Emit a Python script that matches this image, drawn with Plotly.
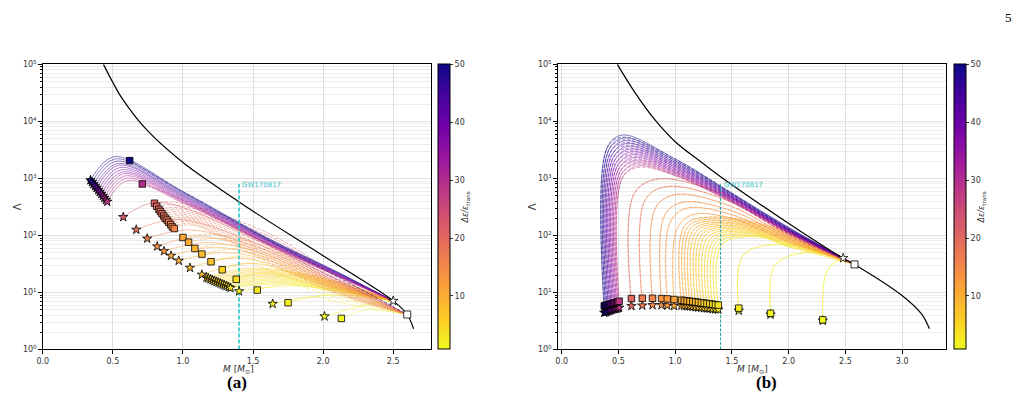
import plotly.graph_objects as go
from plotly.colors import sample_colorscale, sequential

CMIN, CMAX = 0.75, 50.0
PLASMA_R = sequential.Plasma[::-1]

# ======================= panel (a) data =======================
A_BLACK_M = [0.433, 0.50, 0.567, 0.73, 1.0, 1.37, 1.49, 2.0, 2.5, 2.6, 2.645]
A_BLACK_L = [1.0e5, 4.8e4, 2.5e4, 7.6e3, 1.9e3, 436, 275, 44, 7.1, 4.1, 2.3]
A_END_STAR_M, A_END_STAR_L = [2.50], [7.1]
A_END_SQ_M, A_END_SQ_L = [2.60], [4.1]
A_MID_M = [1.0, 1.6, 2.1]

# purple solid curves (end at stars)
A_PUR_DE = [50, 48, 46, 44, 42, 40, 38, 36, 34, 32, 30, 28]
A_PUR_M0 = [0.340, 0.351, 0.362, 0.373, 0.384, 0.395, 0.406, 0.417, 0.428, 0.439, 0.450, 0.460]
A_PUR_L0 = [930, 860, 790, 730, 680, 625, 580, 535, 495, 455, 420, 390]
A_PUR_PK_M = [0.506, 0.515, 0.523, 0.532, 0.540, 0.549, 0.557, 0.566, 0.574, 0.583, 0.591, 0.600]
A_PUR_PK_L = [2400, 2190, 2000, 1820, 1700, 1550, 1410, 1290, 1200, 1100, 1000, 910]
A_PUR_L10 = [590, 565, 540, 515, 495, 475, 455, 435, 415, 400, 385, 370]
A_PUR_L16 = [91, 88, 86, 84, 82, 80, 78, 76, 74, 73, 72, 70]
A_PUR_L21 = [23, 22.6, 22.2, 21.8, 21.4, 21, 20.7, 20.4, 20.1, 19.8, 19.5, 19.2]

# purple dashed curves (end at squares)
A_PURD_DE = [50, 30]
A_PURD_M0 = [0.62, 0.71]
A_PURD_L0 = [2050, 800]
A_PURD_L10 = [580, 420]
A_PURD_L16 = [86, 70]
A_PURD_L21 = [19, 16.5]

# orange dashed curves (squares)
A_ORD_DE = [21, 20.5, 20, 19.5, 19, 18.5, 18, 17.5, 17, 16.5, 16, 15.5]
A_ORD_M0 = [0.797, 0.813, 0.828, 0.839, 0.851, 0.863, 0.874, 0.887, 0.898, 0.913, 0.924, 0.938]
A_ORD_L0 = [367, 324, 288, 263, 240, 219, 200, 186, 170, 155, 141, 132]
A_ORD_PK_M = [0.95, 0.96, 0.97, 0.98, 0.99, 1.0, 1.01, 1.02, 1.03, 1.04, 1.05, 1.06]
A_ORD_PK_L = [380, 340, 305, 280, 258, 238, 220, 205, 190, 175, 162, 152]
A_ORD_L16 = [112, 100, 90, 82, 74, 67, 60, 54, 48, 43, 39, 35]
A_ORD_L21 = [20, 18.5, 17, 16, 15, 14, 13, 12, 11.2, 10.5, 10, 9.5]

# orange solid curves (stars)
A_ORS_DE = [22, 19, 16, 14, 12.5, 11, 10, 9, 8]
A_ORS_M0 = [0.574, 0.667, 0.745, 0.816, 0.865, 0.915, 0.97, 1.05, 1.135]
A_ORS_L0 = [210, 126, 88, 64, 53, 44, 36, 27, 20.5]
A_ORS_PK_M = [0.82, 0.97, 1.05, 1.12, 1.18, 1.22, 1.28, 1.35, 1.42]
A_ORS_PK_L = [380, 190, 125, 95, 75, 62, 50, 40, 32]
A_ORS_L16 = [68, 60, 54, 49, 45, 41, 37, 33, 30]
A_ORS_L21 = [17, 15.5, 14.5, 13.8, 13.2, 12.7, 12.2, 11.8, 11.4]

# yellow / amber dashed curves (squares)
A_YD_DE = [11, 10, 9, 8, 7, 5.5, 4, 3, 2, 1.2]
A_YD_M0 = [1.0, 1.04, 1.085, 1.135, 1.20, 1.28, 1.38, 1.53, 1.75, 2.13]
A_YD_L0 = [92, 76, 59, 47, 34.5, 25, 17, 11, 6.6, 3.5]
A_YD_PK_M = [1.2, 1.25, 1.3, 1.35, 1.42, 1.5, 1.6, 1.75, 1.95, 2.3]
A_YD_PK_L = [105, 88, 70, 57, 43, 32, 22, 14, 8.5, 4.9]
A_YD_L16 = [62, 54, 45, 38, 31, 25, None, None, None, None]
A_YD_L21 = [15, 14, 13, 12, 11, 10, 9, 8, 6.8, None]

# yellow solid cluster (stars)
A_YS_DE = [6.5, 6.2, 5.9, 5.6, 5.3, 5.0, 4.7, 4.4, 4.1, 3.8, 3.5, 3.2, 2.9]
A_YS_M0 = [1.168, 1.182, 1.197, 1.211, 1.225, 1.240, 1.254, 1.268, 1.283, 1.297, 1.311, 1.326, 1.340]
A_YS_L0 = [18.2, 17.6, 17.0, 16.4, 15.8, 15.3, 14.8, 14.3, 13.8, 13.3, 12.9, 12.4, 12.0]
A_YS_PK_M = [1.50, 1.52, 1.54, 1.56, 1.58, 1.60, 1.62, 1.64, 1.66, 1.68, 1.70, 1.72, 1.74]
A_YS_PK_L = [27, 25.5, 24, 22.8, 21.6, 20.5, 19.4, 18.4, 17.4, 16.5, 15.6, 14.8, 14]
A_YS_L21 = [15.5, 15, 14.5, 14, 13.5, 13, 12.6, 12.2, 11.8, 11.4, 11, 10.6, 10.2]

# yellow single stars
A_Y1_DE = [2.5, 1.8, 1.0]
A_Y1_M0 = [1.40, 1.64, 2.01]
A_Y1_L0 = [10.5, 6.3, 3.8]
A_Y1_PK_M = [1.85, 2.05, 2.3]
A_Y1_PK_L = [13, 9, 6]

# ======================= panel (b) data =======================
B_BLACK_M = [0.49, 0.65, 0.82, 1.0, 1.24, 1.40, 1.76, 2.1, 2.46, 2.58, 2.99, 3.17, 3.24]
B_BLACK_L = [1.0e5, 3.1e4, 1.07e4, 4.4e3, 1.86e3, 1.07e3, 339, 120, 42, 31, 9.1, 4.2, 2.3]
B_END_STAR_M, B_END_STAR_L = [2.48], [40]
B_END_SQ_M, B_END_SQ_L = [2.58], [31]
B_MID_M = [1.0, 1.5, 2.0]

B_PUR_DE = [50, 48, 46, 44, 42, 40, 38, 36, 34, 32, 30, 28]
B_PUR_M0 = [0.375, 0.387, 0.399, 0.411, 0.423, 0.435, 0.447, 0.459, 0.471, 0.483, 0.495, 0.506]
B_PUR_SQ_L = [5.8, 5.9, 6.0, 6.1, 6.2, 6.3, 6.4, 6.5, 6.6, 6.7, 6.85, 7.0]
B_PUR_ST_L = [4.4, 4.5, 4.6, 4.7, 4.8, 4.9, 5.0, 5.1, 5.15, 5.2, 5.3, 5.4]
B_PUR_SH_M = [0.400, 0.412, 0.424, 0.436, 0.448, 0.460, 0.472, 0.484, 0.496, 0.508, 0.520, 0.531]
B_PUR_SH_L = [3450, 3080, 2750, 2460, 2200, 1960, 1750, 1570, 1400, 1250, 1120, 1000]
B_PUR_PK_M = [0.535, 0.548, 0.561, 0.574, 0.587, 0.600, 0.612, 0.624, 0.636, 0.648, 0.660, 0.672]
B_PUR_PK_L = [5750, 5140, 4590, 4100, 3660, 3270, 2920, 2610, 2330, 2080, 1860, 1660]
B_PURD_PK_L = [5300, 4750, 4250, 3800, 3400, 3050, 2720, 2440, 2180, 1950, 1750, 1560]
B_PUR_L10 = [2190, 2050, 1920, 1800, 1690, 1590, 1490, 1400, 1320, 1250, 1180, 1120]
B_PUR_L15 = [550, 530, 510, 490, 475, 460, 445, 430, 415, 405, 392, 380]
B_PUR_L20 = [138, 135, 133, 130, 128, 125, 123, 121, 118, 116, 114, 112]
B_PURD_L20 = [128, 125, 123, 121, 119, 117, 115, 113, 111, 109, 107, 105]

B_OR_DE = [20, 17, 15, 13.5, 12.5, 11.5]
B_OR_M0 = [0.614, 0.71, 0.80, 0.88, 0.93, 0.99]
B_OR_SQ_L = [7.8, 7.9, 7.9, 7.8, 7.7, 7.5]
B_OR_ST_L = [5.8, 5.9, 6.0, 6.0, 5.9, 5.8]
B_OR_SH_M = [0.64, 0.735, 0.825, 0.905, 0.955, 1.015]
B_OR_SH_L = [550, 420, 300, 220, 170, 130]
B_OR_PK_M = [0.86, 0.93, 1.0, 1.06, 1.10, 1.15]
B_OR_PK_L = [980, 720, 520, 380, 300, 230]
B_OR_L15 = [450, 380, 320, 270, 230, 200]
B_OR_L20 = [108, 100, 94, 88, 82, 77]

B_Y_DE = [11, 10.3, 9.6, 9, 8.4, 7.8, 7.2, 6.6, 6, 5.4, 4.8, 4.2, 3.6, 3.0]
B_Y_M0 = [1.055, 1.08, 1.105, 1.13, 1.155, 1.18, 1.205, 1.23, 1.255, 1.28, 1.305, 1.33, 1.355, 1.38]
B_Y_SQ_L = [7.3, 7.2, 7.1, 7.0, 6.9, 6.8, 6.7, 6.6, 6.5, 6.4, 6.3, 6.2, 6.1, 6.0]
B_Y_ST_L = [5.9, 5.8, 5.75, 5.7, 5.6, 5.5, 5.45, 5.4, 5.3, 5.25, 5.2, 5.1, 5.05, 5.0]
B_Y_SH_M = [1.085, 1.11, 1.135, 1.16, 1.185, 1.21, 1.235, 1.26, 1.285, 1.31, 1.335, 1.36, 1.385, 1.41]
B_Y_SH_L = [150, 140, 132, 124, 117, 110, 104, 98, 92, 87, 82, 77, 73, 69]
B_Y_PK_M = [1.35, 1.38, 1.41, 1.44, 1.47, 1.50, 1.53, 1.56, 1.59, 1.62, 1.65, 1.68, 1.71, 1.74]
B_Y_PK_L = [210, 195, 182, 170, 160, 150, 141, 133, 125, 118, 111, 105, 99, 94]
B_Y_L20 = [115, 109, 104, 99, 94, 90, 86, 82, 78, 75, 72, 69, 66, 63]

B_Y1_DE = [2.5, 1.8, 1.0]
B_Y1_M0 = [1.56, 1.84, 2.30]
B_Y1_SQ_L = [5.3, 4.3, 3.3]
B_Y1_ST_L = [4.8, 4.1, 3.2]
B_Y1_SH_M = [1.60, 1.88, 2.33]
B_Y1_SH_L = [45, 30, 22]
B_Y1_PK_M = [1.95, 2.15, 2.43]
B_Y1_PK_L = [70, 50, 36]

# GW170817 marker
GW_M = [1.4]
GW_LMAX = [800]
CB_TICKS = [10, 20, 30, 40, 50]

# ======================= figure =======================
W, H = 1024, 406
FONT = "DejaVu Sans"
fig = go.Figure()


def rgba(de, a):
    t = (de - CMIN) / (CMAX - CMIN)
    t = min(max(t, 0.0), 1.0)
    c = sample_colorscale(PLASMA_R, [t])[0]
    return c.replace("rgb(", "rgba(").replace(")", f",{a})")


def add_curve(ax, de, xs, ys, dashed):
    fig.add_trace(go.Scatter(
        x=xs, y=ys, mode="lines", xaxis=ax[0], yaxis=ax[1],
        line=dict(color=rgba(de, 0.5), width=1, shape="spline", smoothing=1.0,
                  dash="3.5px,1.6px" if dashed else "solid"),
        hoverinfo="skip", showlegend=False))


def family(ax, de, m0, l0, knots, end, dashed):
    for i in range(len(de)):
        xs, ys = [m0[i]], [l0[i]]
        for km, kl in knots:
            mm = km[i] if isinstance(km, list) else km
            ll = kl[i]
            if ll is None or mm <= xs[-1]:
                continue
            xs.append(mm)
            ys.append(ll)
        xs.append(end[0][0])
        ys.append(end[1][0])
        add_curve(ax, de[i], xs, ys, dashed)


def markers(ax, de, ms, ls, symbol, size, cb=None):
    mk = dict(color=de, colorscale=PLASMA_R, cmin=CMIN, cmax=CMAX, symbol=symbol,
              size=size, line=dict(color="black", width=0.8))
    if cb is not None:
        mk["showscale"] = True
        mk["colorbar"] = cb
    fig.add_trace(go.Scatter(x=ms, y=ls, mode="markers", xaxis=ax[0], yaxis=ax[1],
                             marker=mk, hoverinfo="skip", showlegend=False))


AX_A = ("x", "y")
AX_B = ("x2", "y2")
SA = (A_END_STAR_M, A_END_STAR_L)
QA = (A_END_SQ_M, A_END_SQ_L)
SB = (B_END_STAR_M, B_END_STAR_L)
QB = (B_END_SQ_M, B_END_SQ_L)

# ---- panel (a) curves ----
family(AX_A, A_YS_DE, A_YS_M0, A_YS_L0, [(A_YS_PK_M, A_YS_PK_L), (A_MID_M[2], A_YS_L21)], SA, False)
family(AX_A, A_Y1_DE, A_Y1_M0, A_Y1_L0, [(A_Y1_PK_M, A_Y1_PK_L)], SA, False)
family(AX_A, A_YD_DE, A_YD_M0, A_YD_L0,
       [(A_YD_PK_M, A_YD_PK_L), (A_MID_M[1], A_YD_L16), (A_MID_M[2], A_YD_L21)], QA, True)
family(AX_A, A_ORS_DE, A_ORS_M0, A_ORS_L0,
       [(A_ORS_PK_M, A_ORS_PK_L), (A_MID_M[1], A_ORS_L16), (A_MID_M[2], A_ORS_L21)], SA, False)
family(AX_A, A_ORD_DE, A_ORD_M0, A_ORD_L0,
       [(A_ORD_PK_M, A_ORD_PK_L), (A_MID_M[1], A_ORD_L16), (A_MID_M[2], A_ORD_L21)], QA, True)
family(AX_A, A_PUR_DE, A_PUR_M0, A_PUR_L0,
       [(A_PUR_PK_M, A_PUR_PK_L), (A_MID_M[0], A_PUR_L10), (A_MID_M[1], A_PUR_L16),
        (A_MID_M[2], A_PUR_L21)], SA, False)
family(AX_A, A_PURD_DE, A_PURD_M0, A_PURD_L0,
       [(A_MID_M[0], A_PURD_L10), (A_MID_M[1], A_PURD_L16), (A_MID_M[2], A_PURD_L21)], QA, True)

# ---- panel (b) curves ----
family(AX_B, B_Y1_DE, B_Y1_M0, B_Y1_ST_L, [(B_Y1_SH_M, B_Y1_SH_L), (B_Y1_PK_M, B_Y1_PK_L)], SB, False)
family(AX_B, B_Y1_DE, B_Y1_M0, B_Y1_SQ_L, [(B_Y1_SH_M, B_Y1_SH_L), (B_Y1_PK_M, B_Y1_PK_L)], QB, True)
family(AX_B, B_Y_DE, B_Y_M0, B_Y_ST_L,
       [(B_Y_SH_M, B_Y_SH_L), (B_Y_PK_M, B_Y_PK_L), (B_MID_M[2], B_Y_L20)], SB, False)
family(AX_B, B_Y_DE, B_Y_M0, B_Y_SQ_L,
       [(B_Y_SH_M, B_Y_SH_L), (B_Y_PK_M, B_Y_PK_L), (B_MID_M[2], B_Y_L20)], QB, True)
family(AX_B, B_OR_DE, B_OR_M0, B_OR_ST_L,
       [(B_OR_SH_M, B_OR_SH_L), (B_OR_PK_M, B_OR_PK_L), (B_MID_M[1], B_OR_L15), (B_MID_M[2], B_OR_L20)],
       SB, False)
family(AX_B, B_OR_DE, B_OR_M0, B_OR_SQ_L,
       [(B_OR_SH_M, B_OR_SH_L), (B_OR_PK_M, B_OR_PK_L), (B_MID_M[1], B_OR_L15), (B_MID_M[2], B_OR_L20)],
       QB, True)
family(AX_B, B_PUR_DE, B_PUR_M0, B_PUR_ST_L,
       [(B_PUR_SH_M, B_PUR_SH_L), (B_PUR_PK_M, B_PUR_PK_L), (B_MID_M[0], B_PUR_L10),
        (B_MID_M[1], B_PUR_L15), (B_MID_M[2], B_PUR_L20)], SB, False)
family(AX_B, B_PUR_DE, B_PUR_M0, B_PUR_SQ_L,
       [(B_PUR_SH_M, B_PUR_SH_L), (B_PUR_PK_M, B_PURD_PK_L), (B_MID_M[0], B_PUR_L10),
        (B_MID_M[1], B_PUR_L15), (B_MID_M[2], B_PURD_L20)], QB, True)

# ---- black hadronic curves ----
for ax, bm, bl in ((AX_A, A_BLACK_M, A_BLACK_L), (AX_B, B_BLACK_M, B_BLACK_L)):
    fig.add_trace(go.Scatter(x=bm, y=bl, mode="lines", xaxis=ax[0], yaxis=ax[1],
                             line=dict(color="black", width=1.2, shape="spline", smoothing=1.0),
                             hoverinfo="skip", showlegend=False))

# ---- GW170817 lines ----
fig.add_trace(go.Scatter(x=GW_M * 2, y=[1, GW_LMAX[0]], mode="lines", xaxis="x", yaxis="y",
                         line=dict(color="rgba(40,200,200,0.9)", width=1.8, dash="4px,2px"),
                         hoverinfo="skip", showlegend=False))
fig.add_trace(go.Scatter(x=GW_M * 2, y=[1, GW_LMAX[0]], mode="lines", xaxis="x2", yaxis="y2",
                         line=dict(color="#1a9d9d", width=1, dash="3px,1.5px"),
                         hoverinfo="skip", showlegend=False))
for xr, yr in (("x", "y"), ("x2", "y2")):
    fig.add_annotation(x=GW_M[0], y=2.8, xref=xr, yref=yr, text="GW170817", showarrow=False,
                       xanchor="left", yanchor="bottom", xshift=1, yshift=-1,
                       font=dict(family=FONT, size=7, color="#3cc8c8"))


def cbar(xpix):
    return dict(x=xpix / W, xanchor="left", xpad=0, y=1 - 206.5 / H, yanchor="middle", ypad=0,
                len=293 / H, lenmode="fraction", thickness=12, outlinecolor="black", outlinewidth=1,
                tickvals=CB_TICKS, ticks="outside", ticklen=3, tickcolor="#333",
                tickfont=dict(family=FONT, size=8, color="#333"),
                title=dict(text="<i>Δε/ε</i><sub>trans</sub>", side="right",
                           font=dict(family=FONT, size=8, color="#333")))


END_STYLE = dict(color="white", line=dict(color="black", width=0.8))

# ---- markers panel (a) ----
markers(AX_A, A_PUR_DE, A_PUR_M0, A_PUR_L0, "star", 7)
markers(AX_A, A_ORS_DE, A_ORS_M0, A_ORS_L0, "star", 7)
markers(AX_A, A_YS_DE, A_YS_M0, A_YS_L0, "star", 7)
markers(AX_A, A_Y1_DE, A_Y1_M0, A_Y1_L0, "star", 7)
markers(AX_A, A_ORD_DE, A_ORD_M0, A_ORD_L0, "square", 6.5)
markers(AX_A, A_YD_DE, A_YD_M0, A_YD_L0, "square", 6.5)
markers(AX_A, A_PURD_DE, A_PURD_M0, A_PURD_L0, "square", 6.5, cb=cbar(435))
fig.add_trace(go.Scatter(x=A_END_STAR_M, y=A_END_STAR_L, mode="markers", xaxis="x", yaxis="y",
                         marker=dict(symbol="star", size=7, **END_STYLE),
                         hoverinfo="skip", showlegend=False))
fig.add_trace(go.Scatter(x=A_END_SQ_M, y=A_END_SQ_L, mode="markers", xaxis="x", yaxis="y",
                         marker=dict(symbol="square", size=7, **END_STYLE),
                         hoverinfo="skip", showlegend=False))

# ---- markers panel (b) ----
markers(AX_B, B_PUR_DE, B_PUR_M0, B_PUR_ST_L, "star", 7)
markers(AX_B, B_OR_DE, B_OR_M0, B_OR_ST_L, "star", 7)
markers(AX_B, B_Y_DE, B_Y_M0, B_Y_ST_L, "star", 7)
markers(AX_B, B_Y1_DE, B_Y1_M0, B_Y1_ST_L, "star", 7)
markers(AX_B, B_PUR_DE, B_PUR_M0, B_PUR_SQ_L, "square", 6.5)
markers(AX_B, B_OR_DE, B_OR_M0, B_OR_SQ_L, "square", 6.5)
markers(AX_B, B_Y_DE, B_Y_M0, B_Y_SQ_L, "square", 6.5)
markers(AX_B, B_Y1_DE, B_Y1_M0, B_Y1_SQ_L, "square", 6.5, cb=cbar(954))
fig.add_trace(go.Scatter(x=B_END_STAR_M, y=B_END_STAR_L, mode="markers", xaxis="x2", yaxis="y2",
                         marker=dict(symbol="star", size=7, **END_STYLE),
                         hoverinfo="skip", showlegend=False))
fig.add_trace(go.Scatter(x=B_END_SQ_M, y=B_END_SQ_L, mode="markers", xaxis="x2", yaxis="y2",
                         marker=dict(symbol="square", size=7, **END_STYLE),
                         hoverinfo="skip", showlegend=False))

# ---- axes ----
minor_vals = [m * 10 ** k for k in range(5) for m in range(2, 10)]
tickfont = dict(family=FONT, size=8, color="#333")


def xaxis(dom, rng, tv):
    return dict(domain=dom, range=rng, tickvals=tv, ticktext=[f"{v:.1f}" for v in tv],
                showline=True, linecolor="black", linewidth=1, mirror=True,
                ticks="outside", ticklen=3.5, tickcolor="black", tickfont=tickfont,
                showgrid=True, gridcolor="#dedede", gridwidth=1, zeroline=False)


def yaxis(anchor):
    return dict(domain=[1 - 353 / H, 1 - 60 / H], type="log", range=[0, 5], anchor=anchor,
                tickvals=[1, 10, 100, 1e3, 1e4, 1e5],
                ticktext=[f"10<sup>{k}</sup>" for k in range(6)],
                showline=True, linecolor="black", linewidth=1, mirror=True,
                ticks="outside", ticklen=3.5, tickcolor="black", tickfont=tickfont,
                showgrid=True, gridcolor="#dedede", gridwidth=1, zeroline=False,
                minor=dict(tickvals=minor_vals, ticks="outside", ticklen=2, tickcolor="black",
                           showgrid=True, gridcolor="#ececec", gridwidth=1))


fig.update_layout(
    width=W, height=H, margin=dict(l=0, r=0, t=0, b=0),
    paper_bgcolor="white", plot_bgcolor="white",
    xaxis=xaxis([37 / W, 428 / W], [0, 2.773], [0.0, 0.5, 1.0, 1.5, 2.0, 2.5]) | dict(anchor="y"),
    yaxis=yaxis("x"),
    xaxis2=xaxis([555 / W, 946 / W], [-0.035, 3.39], [0.0, 0.5, 1.0, 1.5, 2.0, 2.5, 3.0]) | dict(anchor="y2"),
    yaxis2=yaxis("x2"),
    showlegend=False,
)

labels = [
    (234 / W, 1 - 374 / H, "<i>M</i> [<i>M</i><sub>⊙</sub>]", 9, FONT, "#333", 0),
    (751 / W, 1 - 374 / H, "<i>M</i> [<i>M</i><sub>⊙</sub>]", 9, FONT, "#333", 0),
    (232 / W, 1 - 387 / H, "<b>(a)</b>", 17, "Liberation Serif", "black", 0),
    (765 / W, 1 - 387 / H, "<b>(b)</b>", 17, "Liberation Serif", "black", 0),
    (1008 / W, 1 - 12 / H, "5", 13, "Liberation Serif", "black", 0),
    (11 / W, 1 - 206 / H, "Λ", 10, FONT, "#333", -90),
    (530 / W, 1 - 206 / H, "Λ", 10, FONT, "#333", -90),
]
for x, y, t, s, f, c, ang in labels:
    fig.add_annotation(x=x, y=y, xref="paper", yref="paper", text=t, showarrow=False,
                       xanchor="center", yanchor="middle", textangle=ang,
                       font=dict(family=f, size=s, color=c))

fig.write_html("out.html")
